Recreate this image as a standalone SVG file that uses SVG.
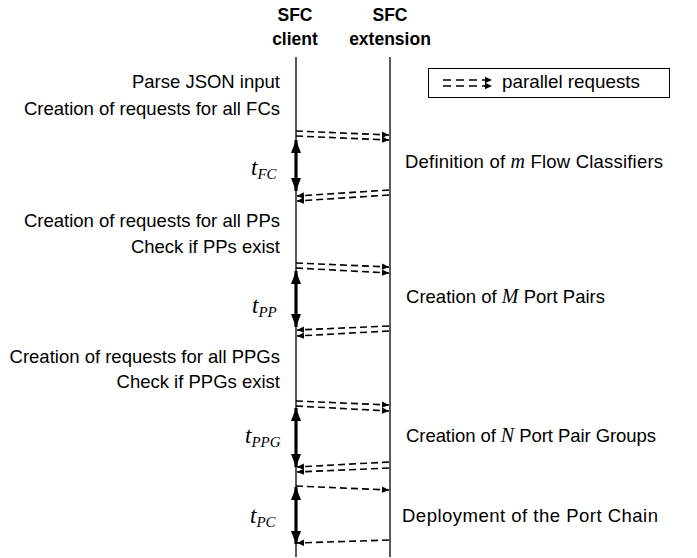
<svg xmlns="http://www.w3.org/2000/svg" width="697" height="558" viewBox="0 0 697 558">
<defs>
<style>
.lbl{font-family:"Liberation Sans",Arial,sans-serif;font-size:18.5px;fill:#000}
.hdr{font-family:"Liberation Sans",Arial,sans-serif;font-size:17.5px;font-weight:bold;fill:#000}
.it{font-family:"Liberation Serif","Times New Roman",serif;font-style:italic;font-size:20px}
.tl{font-family:"Liberation Serif","Times New Roman",serif;font-style:italic;font-size:23px;fill:#000}
.sub{font-size:15px}
.life{stroke:#000;stroke-width:1.3;fill:none}
.dash{stroke:#000;stroke-width:1.6;fill:none;stroke-dasharray:7 4;marker-end:url(#ah)}
.thick{stroke:#000;stroke-width:3.2;fill:none;marker-start:url(#big);marker-end:url(#big)}
</style>
<marker id="ah" markerUnits="userSpaceOnUse" markerWidth="8" markerHeight="8" refX="7" refY="4" orient="auto">
<path d="M0,0.8 L7,4 L0,7.2 Z" fill="#000"/>
</marker>
<marker id="big" markerUnits="userSpaceOnUse" markerWidth="14" markerHeight="12" refX="13" refY="6" orient="auto-start-reverse">
<path d="M0,1 L13,6 L0,11 Z" fill="#000"/>
</marker>
</defs>
<rect width="697" height="558" fill="#fff"/>

<g id="client">
<text class="hdr" x="295" y="21" text-anchor="middle">SFC</text>
<text class="hdr" x="295" y="45" text-anchor="middle">client</text>
<line class="life" x1="296" y1="57" x2="296" y2="557"/>
</g>
<g id="extension">
<text class="hdr" x="390" y="21" text-anchor="middle">SFC</text>
<text class="hdr" x="390" y="45" text-anchor="middle">extension</text>
<line class="life" x1="390" y1="57" x2="390" y2="557"/>
</g>

<g id="legend">
<rect x="428.5" y="68.5" width="241" height="29" fill="none" stroke="#000" stroke-width="1"/>
<line x1="443" y1="80" x2="492" y2="80" stroke="#000" stroke-width="1.6" stroke-dasharray="8 5" marker-end="url(#ah)"/>
<line x1="443" y1="86" x2="492" y2="86" stroke="#000" stroke-width="1.6" stroke-dasharray="8 5" marker-end="url(#ah)"/>
<text class="lbl" x="502" y="88" textLength="138" lengthAdjust="spacingAndGlyphs">parallel requests</text>
</g>

<g id="client-notes">
<text class="lbl" x="280" y="88" text-anchor="end">Parse JSON input</text>
<text class="lbl" x="280" y="115" text-anchor="end">Creation of requests for all FCs</text>
<text class="lbl" x="280" y="227" text-anchor="end">Creation of requests for all PPs</text>
<text class="lbl" x="280" y="253" text-anchor="end">Check if PPs exist</text>
<text class="lbl" x="280" y="363" text-anchor="end">Creation of requests for all PPGs</text>
<text class="lbl" x="280" y="388" text-anchor="end">Check if PPGs exist</text>
</g>

<g id="ext-notes">
<text class="lbl" x="405" y="168" textLength="258">Definition of <tspan class="it">m</tspan> Flow Classifiers</text>
<text class="lbl" x="406" y="303" textLength="199">Creation of <tspan class="it">M</tspan> Port Pairs</text>
<text class="lbl" x="406" y="442" textLength="250">Creation of <tspan class="it">N</tspan> Port Pair Groups</text>
<text class="lbl" x="402" y="522" textLength="256">Deployment of the Port Chain</text>
</g>

<g id="timings">
<text class="tl" x="251" y="175">t<tspan class="sub" dy="4">FC</tspan></text>
<text class="tl" x="252" y="313">t<tspan class="sub" dy="4">PP</tspan></text>
<text class="tl" x="245" y="443">t<tspan class="sub" dy="4">PPG</tspan></text>
<text class="tl" x="250" y="523">t<tspan class="sub" dy="4">PC</tspan></text>
</g>

<g id="connectors">
<line class="dash" x1="296" y1="131" x2="389" y2="135"/>
<line class="dash" x1="296" y1="136" x2="389" y2="140"/>
<line class="dash" x1="389" y1="190" x2="297" y2="196"/>
<line class="dash" x1="389" y1="195" x2="297" y2="201"/>
<line class="thick" x1="296" y1="140" x2="296" y2="191"/>

<line class="dash" x1="296" y1="263" x2="389" y2="267"/>
<line class="dash" x1="296" y1="268" x2="389" y2="273"/>
<line class="dash" x1="389" y1="326" x2="297" y2="330"/>
<line class="dash" x1="389" y1="331" x2="297" y2="336"/>
<line class="thick" x1="296" y1="271" x2="296" y2="327"/>

<line class="dash" x1="296" y1="401" x2="389" y2="405"/>
<line class="dash" x1="296" y1="406" x2="389" y2="411"/>
<line class="dash" x1="389" y1="462" x2="297" y2="467"/>
<line class="dash" x1="389" y1="468" x2="297" y2="472"/>
<line class="thick" x1="296" y1="408" x2="296" y2="467"/>

<line class="dash" x1="296" y1="486" x2="389" y2="490"/>
<line class="dash" x1="389" y1="540" x2="297" y2="543"/>
<line class="thick" x1="296" y1="487" x2="296" y2="544"/>
</g>
</svg>
